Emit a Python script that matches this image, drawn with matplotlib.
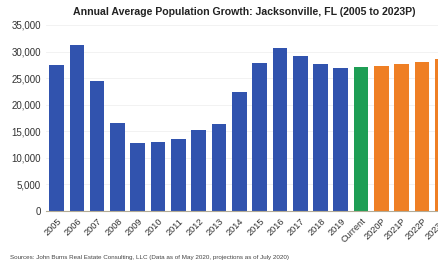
import matplotlib

matplotlib.use("Agg")

import matplotlib.pyplot as plt
import numpy as np

plt.rcParams["font.family"] = ["Liberation Sans", "DejaVu Sans"]

categories = [
    "2005", "2006", "2007", "2008", "2009", "2010", "2011", "2012", "2013",
    "2014", "2015", "2016", "2017", "2018", "2019", "Current",
    "2020P", "2021P", "2022P", "2023P",
]
growth = [
    27500, 31300, 24450, 16500, 12750, 12900, 13500, 15250, 16450,
    22450, 27800, 30600, 29150, 27650, 26950, 27150,
    27250, 27600, 28100, 28600,
]
kinds = ["hist"] * 15 + ["current"] + ["proj"] * 4
y_ticks = [0, 5000, 10000, 15000, 20000, 25000, 30000, 35000]

colors = {"hist": "#3153ae", "current": "#1e9e55", "proj": "#ef7f24"}

fig = plt.figure(figsize=(4.38, 2.70), dpi=100)
ax = fig.add_axes([0.106, 0.2185, 0.927, 0.689])

x = np.arange(len(categories))
ax.bar(x, growth, width=0.72, color=[colors[k] for k in kinds], zorder=2)

ax.set_xlim(-0.5, 19.5)
ax.set_ylim(0, 35000)
ax.set_yticks(y_ticks)
ax.set_yticklabels([f"{v:,}" for v in y_ticks], fontsize=7, color="#333333")
ax.set_xticks(x)
ax.set_xticklabels(categories, rotation=45, ha="right", rotation_mode="anchor",
                   fontsize=6.6, color="#333333")
ax.tick_params(length=0, pad=4)
ax.yaxis.grid(True, color="#f0f0f0", linewidth=0.6, zorder=0)
for side in ["top", "right", "left"]:
    ax.spines[side].set_visible(False)
ax.spines["bottom"].set_color("#b3ab95")
ax.spines["bottom"].set_linewidth(0.8)

fig.text(0.558, 0.955, "Annual Average Population Growth: Jacksonville, FL (2005 to 2023P)",
         ha="center", va="center", fontsize=7.6, fontweight="bold", color="#222222")
fig.text(0.023, 0.048,
         "Sources: John Burns Real Estate Consulting, LLC (Data as of May 2020, projections as of July 2020)",
         ha="left", va="center", fontsize=4.5, color="#444444")

fig.savefig("out.png", dpi=100)
plt.close(fig)
